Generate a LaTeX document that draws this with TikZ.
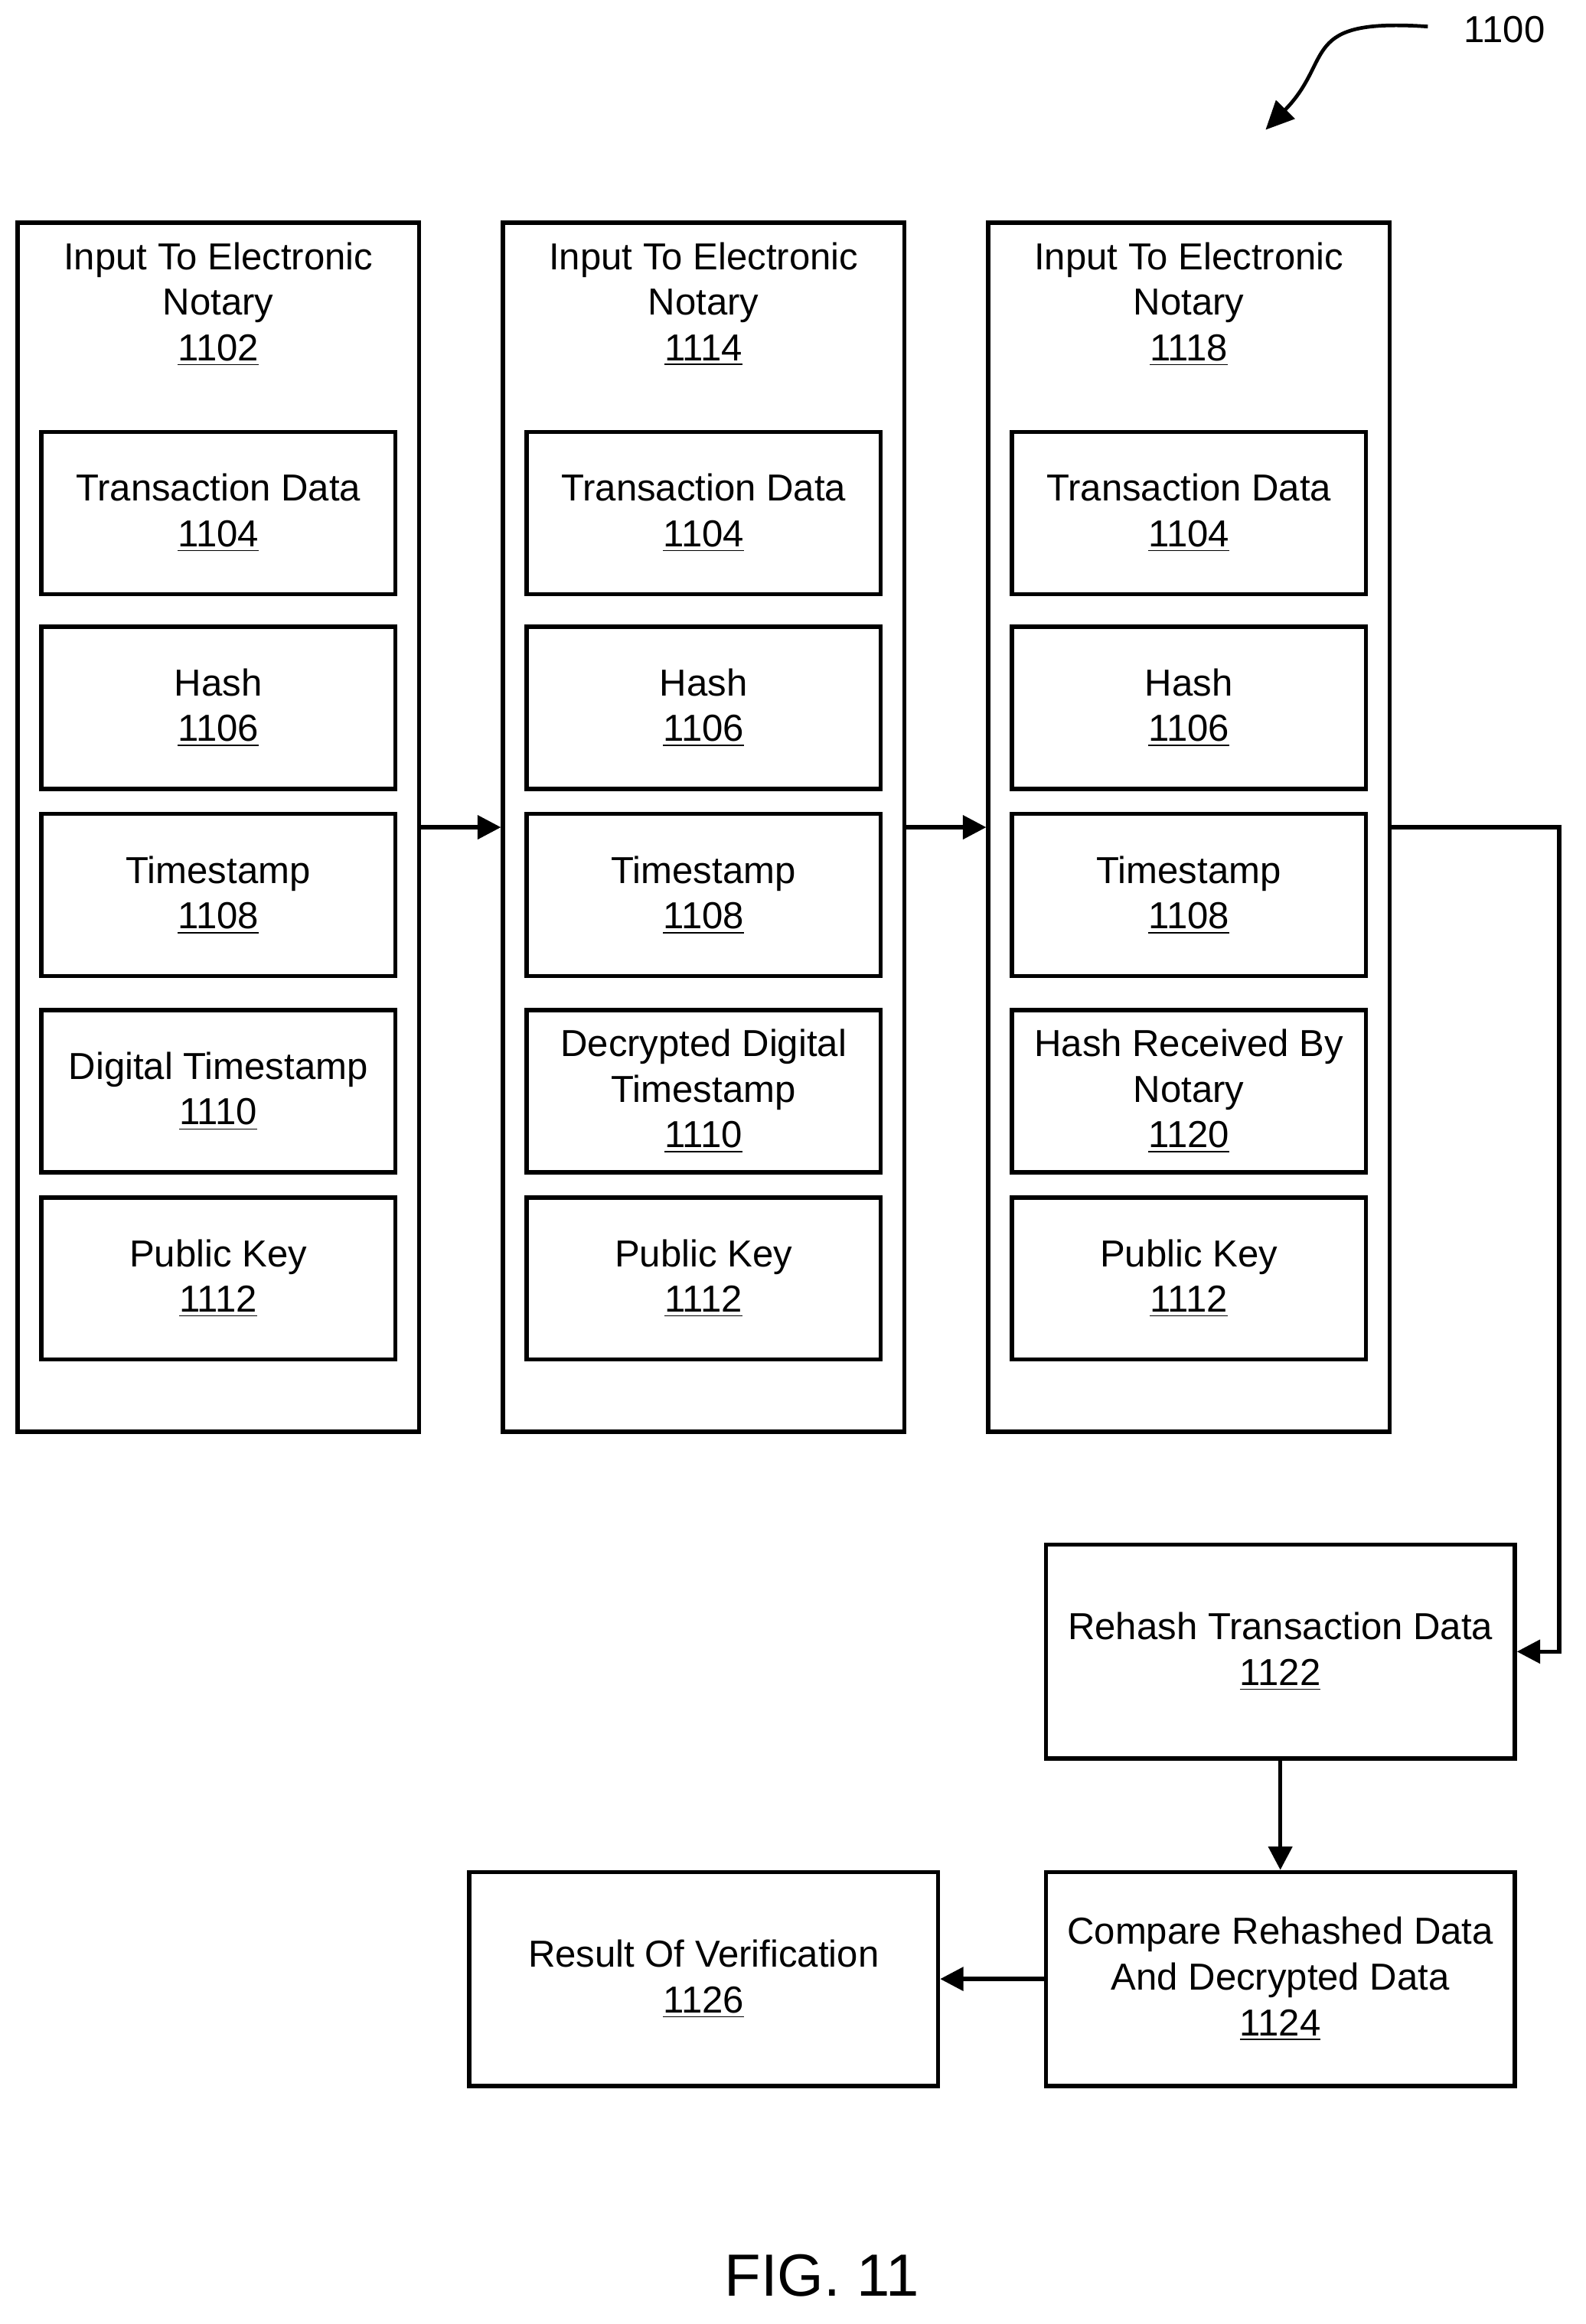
\documentclass[tikz,border=0pt]{standalone}
\usepackage{fontspec}
\setmainfont{Liberation Sans}
\usetikzlibrary{arrows.meta}
\tikzset{
	box/.style={draw,line width=1.6pt,align=center,inner sep=0pt,font=\fontsize{14.5}{17.6}\selectfont},
	outer/.style={box,minimum width=5.44cm,minimum height=16.4cm},
	inner/.style={box,minimum width=4.8cm,minimum height=2.2cm},
	stage/.style={box,minimum width=6.36cm,minimum height=2.9cm},
	flow/.style={line width=1.6pt,-{Triangle[length=9pt,width=9pt]}}
}
\newcommand{\refnum}[1]{\underline{#1}}
\begin{document}
\begin{tikzpicture}[x=0.02cm,y=-0.02cm]
	\useasboundingbox (0,0) rectangle (1075,1576);
	%%%%%%%%%%%%%%%%%%%
	%   notary inputs %
	%%%%%%%%%%%%%%%%%%%
		\foreach \col/\cx/\num/\fourth in {A/148/1102/{Digital Timestamp\\\refnum{1110}},B/477/1114/{Decrypted Digital\\Timestamp\\\refnum{1110}},C/806/1118/{Hash Received By\\Notary\\\refnum{1120}}}
			{
				\node[outer] (in\col) at (\cx,561) {};
				\node[font=\fontsize{14.5}{17.6}\selectfont,align=center,anchor=north] (title\col) at (\cx,158) {Input To Electronic\\Notary\\\refnum{\num}};
				\node[inner] (data\col) at (\cx,348) {Transaction Data\\\refnum{1104}};
				\node[inner] (hash\col) at (\cx,480) {Hash\\\refnum{1106}};
				\node[inner] (time\col) at (\cx,607) {Timestamp\\\refnum{1108}};
				\node[inner] (extra\col) at (\cx,740) {\fourth};
				\node[inner] (key\col) at (\cx,867) {Public Key\\\refnum{1112}};
			}
	%%%%%%%%%%%%%%%%%%%
	%  verification   %
	%%%%%%%%%%%%%%%%%%%
		\node[stage] (rehash) at (868,1120) {Rehash Transaction Data\\\refnum{1122}};
		\node[stage] (compare) at (868,1342) {Compare Rehashed Data\\And Decrypted Data\\\refnum{1124}};
		\node[stage] (result) at (477,1342) {Result Of Verification\\\refnum{1126}};
	% connectors
		\draw[flow] (inA.east) -- (inB.west);
		\draw[flow] (inB.east) -- (inC.west);
		\draw[flow] (inC.east) -- (1057,561) |- (rehash.east);
		\draw[flow] (rehash) -- (compare);
		\draw[flow] (compare) -- (result);
	% labels
		\node[font=\fontsize{14.5}{17.6}\selectfont] (figno) at (1020,20) {1100};
		\coordinate (tip) at (858,88);
		\draw[line width=1.4pt,-{Triangle[length=11pt,width=10pt]}] (968,18) .. controls (880,12) and (905,40) .. (tip);
		\node[font=\fontsize{23}{26}\selectfont] (fig) at (557,1543) {FIG. 11};
\end{tikzpicture}
\end{document}
